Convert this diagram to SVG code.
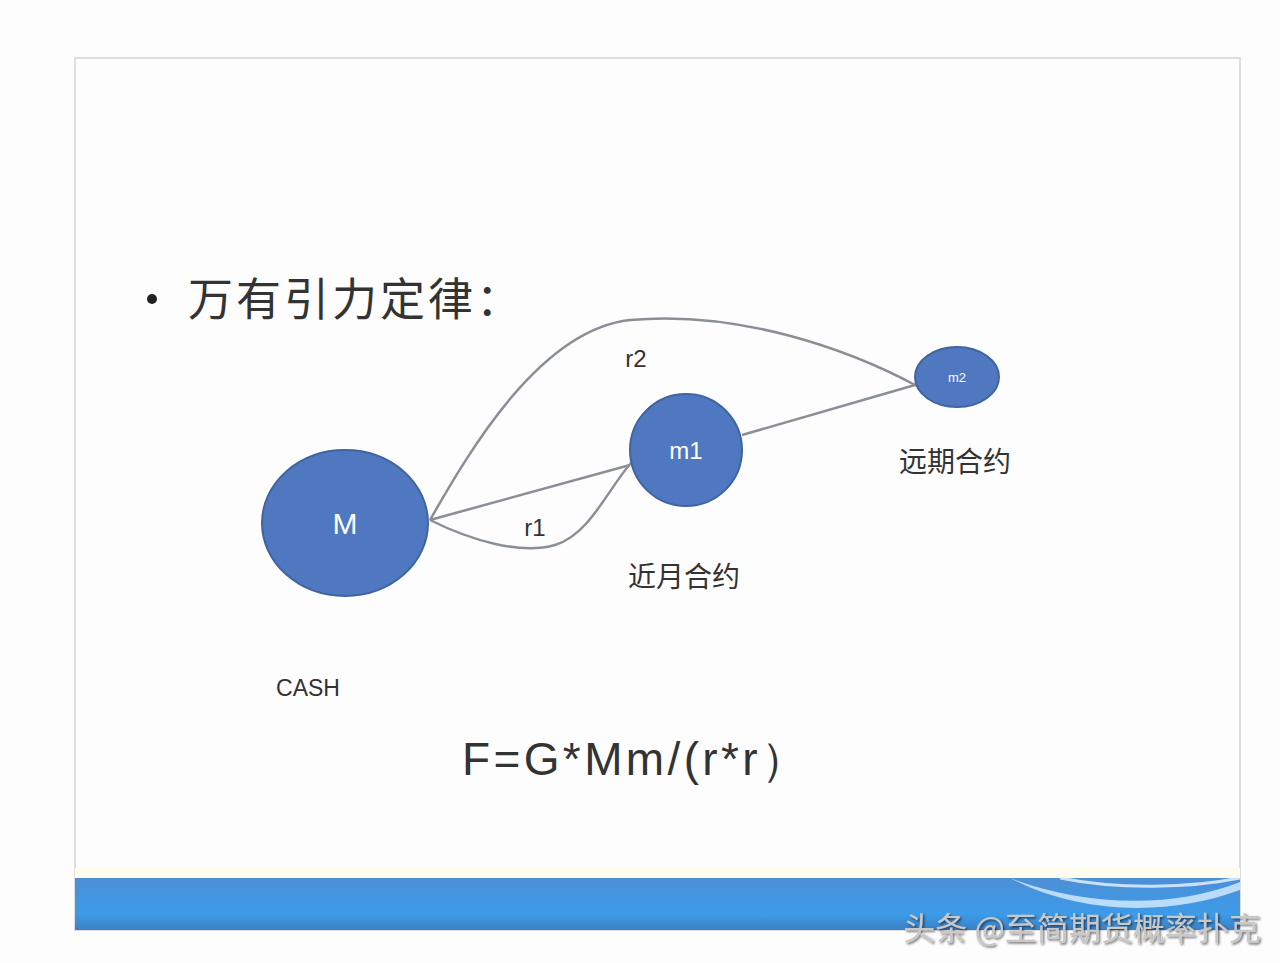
<svg xmlns="http://www.w3.org/2000/svg" width="1280" height="963" viewBox="0 0 1280 963">
<defs>
<style>
.node{fill:#4f78c0;stroke:#40649f;stroke-width:2}
.edge{fill:none;stroke:#8a8f96;stroke-width:2.5}
.lbl{font-family:"Liberation Sans","Noto Sans CJK SC",sans-serif;fill:#333}
.in{font-family:"Liberation Sans",sans-serif;fill:#fff;text-anchor:middle}
.cjk{font-family:"Noto Sans CJK SC",sans-serif;fill:#333;text-anchor:middle}
</style>
<linearGradient id="band" x1="0" y1="0" x2="0" y2="1">
<stop offset="0" stop-color="#4d8fd6"/>
<stop offset="0.7" stop-color="#3d9be8"/>
<stop offset="1" stop-color="#3c80c4"/>
</linearGradient>
<filter id="sh" x="-5%" y="-20%" width="110%" height="140%">
<feDropShadow dx="1.5" dy="1.5" stdDeviation="1" flood-color="#000" flood-opacity="0.6"/>
</filter>
</defs>
<rect width="1280" height="963" fill="#fdfdfd"/>
<g id="slide">
<rect x="75" y="58" width="1165" height="872" fill="#fdfdfd" stroke="#dedede" stroke-width="2"/>
<rect x="75" y="868" width="1165" height="10" fill="#fffbee"/>
<rect x="75" y="878" width="1165" height="52" fill="url(#band)"/>
<path d="M1010,878 C1080,905 1170,910 1240,882 L1240,890 C1170,916 1080,915 1010,878 Z" fill="#cfe9fb" opacity="0.85"/>
<path d="M1060,878 C1120,890 1190,888 1240,878" fill="none" stroke="#e8f6ff" stroke-width="3" opacity="0.8"/>
</g>
<g id="title">
<circle cx="152" cy="299" r="5" fill="#222"/>
<text x="188" y="316" font-family="Noto Sans CJK SC, sans-serif" font-size="45" letter-spacing="3" fill="#333">万有引力定律：</text>
</g>
<g id="connectors">
<path class="edge" d="M430,520 L630,465"/>
<path class="edge" d="M430,520 C470,540 520,555 555,545 C590,535 610,485 632,462"/>
<path class="edge" d="M430,520 C470,450 540,330 630,320 C740,310 850,350 917,386"/>
<path class="edge" d="M742,435 L915,385"/>
<text class="lbl" x="636" y="367" font-size="24" text-anchor="middle">r2</text>
<text class="lbl" x="535" y="536" font-size="24" text-anchor="middle">r1</text>
</g>
<g id="node-M">
<ellipse class="node" cx="345" cy="523" rx="83" ry="73"/>
<text class="in" x="345" y="534" font-size="30">M</text>
<text class="lbl" x="308" y="696" font-size="23" text-anchor="middle">CASH</text>
</g>
<g id="node-m1">
<circle class="node" cx="686" cy="450" r="56"/>
<text class="in" x="686" y="459" font-size="24">m1</text>
<text class="cjk" x="684" y="587" font-size="28">近月合约</text>
</g>
<g id="node-m2">
<ellipse class="node" cx="957" cy="377" rx="42" ry="30"/>
<text class="in" x="957" y="382" font-size="13">m2</text>
<text class="cjk" x="955" y="472" font-size="28">远期合约</text>
</g>
<g id="formula">
<text x="462" y="775" font-family="Liberation Sans, sans-serif" font-size="46" textLength="345" lengthAdjust="spacing" fill="#333">F=G*Mm/(r*r）</text>
</g>
<g id="watermark">
<text x="1082" y="940" font-family="Noto Sans CJK SC, sans-serif" font-size="32" fill="#c8c8c8" text-anchor="middle" filter="url(#sh)">头条 @至简期货概率扑克</text>
</g>
</svg>
